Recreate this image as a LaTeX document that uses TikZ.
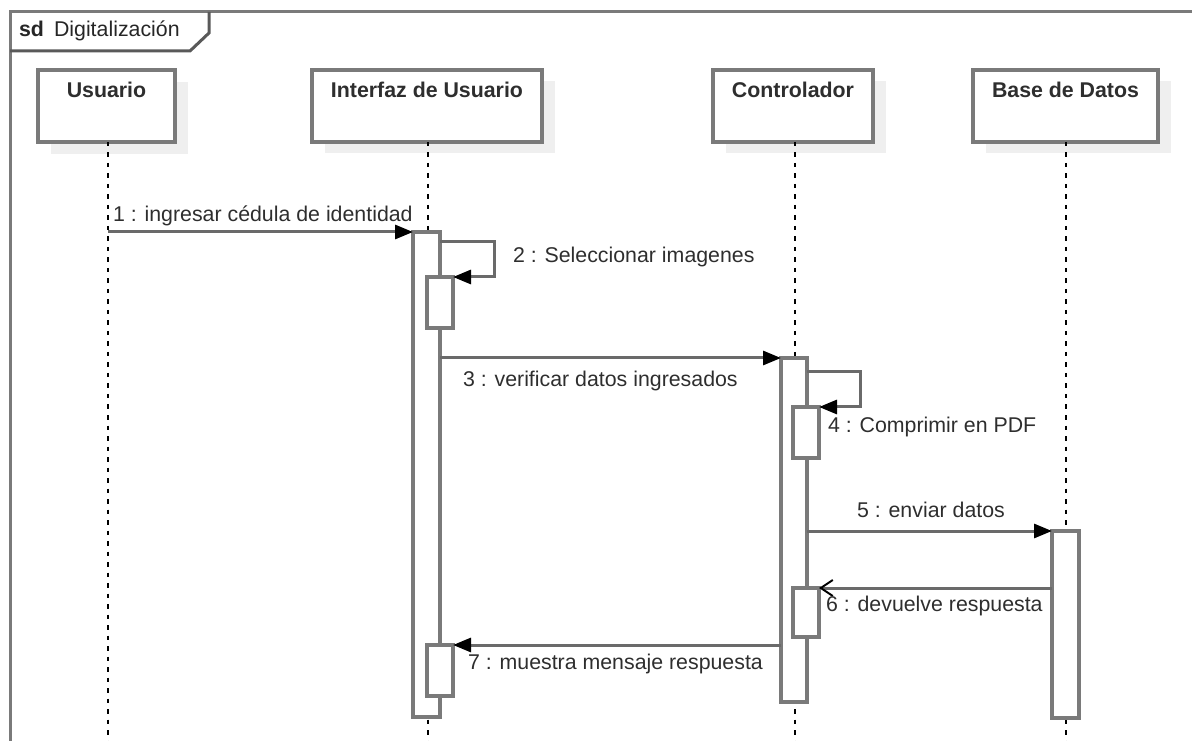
\documentclass[tikz,border=0pt]{standalone}
\usepackage{fontspec}
\setmainfont{Liberation Sans}
\usetikzlibrary{arrows.meta,calc}

\definecolor{boxline}{HTML}{7A7A7A}
\definecolor{msgline}{HTML}{6A6A6A}
\definecolor{txt}{HTML}{2E2E2E}
\definecolor{shade}{HTML}{EFEFEF}

% one drawing unit
\def\pxu{0.75pt}

\tikzset{
  every node/.style={inner sep=0pt, outer sep=0pt},
  lbl/.style={font=\fontsize{16}{19}\selectfont, text=txt, anchor=base west},
  headbox/.style={draw=boxline, line width=3.5*\pxu, fill=white, anchor=north west,
    minimum height=72*\pxu},
  headshadow/.style={fill=shade, anchor=north west, minimum height=72*\pxu},
  headtext/.style={font=\bfseries\fontsize{16}{19}\selectfont, text=txt, anchor=base},
  lifeline/.style={draw=black, line width=2.2*\pxu, dash pattern=on 4.5*\pxu off 6*\pxu},
  actbar/.style={draw=boxline, line width=3.5*\pxu, fill=white, anchor=north west},
  msg/.style={draw=msgline, line width=3*\pxu,
    -{Triangle[length=18*\pxu, width=14*\pxu, color=black]}},
  reply/.style={draw=msgline, line width=3*\pxu,
    -{Straight Barb[length=12*\pxu, width=16*\pxu, line width=2*\pxu, color=black]}},
  framebox/.style={draw=boxline, line width=3*\pxu},
}

\begin{document}
\begin{tikzpicture}[x=0.75pt, y=-0.75pt]
  \useasboundingbox (0,0) rectangle (1192,741);
  \clip (0,0) rectangle (1192,741);

  % interaction frame and its tab
  \draw[framebox] (10,12) rectangle (1220,770);
  \draw[framebox, draw=black!65] (10,51) -- (190,51) -- (209,33) -- (209,12);
  \node[font=\bfseries\fontsize{16}{19}\selectfont, text=black!85, anchor=base west] (sd) at (19,37) {sd};
  \node[lbl, text=black!85] (sdname) at (54,37) {Digitalización};

  % lifeline heads with their shadows
  \node[headshadow, minimum width=137*\pxu] at (51,82) {};
  \node[headshadow, minimum width=230*\pxu] at (325,81) {};
  \node[headshadow, minimum width=160*\pxu] at (726,81) {};
  \node[headshadow, minimum width=185*\pxu] at (986,81) {};

  \node[headbox, minimum width=137*\pxu] (usr) at (38,70) {};
  \node[headbox, minimum width=230*\pxu] (ui)  at (312,70) {};
  \node[headbox, minimum width=160*\pxu] (ctl) at (713,70) {};
  \node[headbox, minimum width=185*\pxu] (db)  at (973,70) {};

  \node[headtext] at ($(usr.north)+(0,28)$) {Usuario};
  \node[headtext] at ($(ui.north)+(0,28)$)  {Interfaz de Usuario};
  \node[headtext] at ($(ctl.north)+(0,28)$) {Controlador};
  \node[headtext] at ($(db.north)+(0,28)$)  {Base de Datos};

  % lifelines
  \coordinate (usrEnd) at (108,745);
  \coordinate (uiEnd)  at (428,745);
  \coordinate (ctlEnd) at (795,745);
  \coordinate (dbEnd)  at (1066,745);
  \draw[lifeline] (usr.south -| usrEnd) -- (usrEnd);
  \draw[lifeline] (ui.south -| uiEnd)   -- (uiEnd);
  \draw[lifeline] (ctl.south -| ctlEnd) -- (ctlEnd);
  \draw[lifeline] (db.south -| dbEnd)   -- (dbEnd);

  % activation bars
  \node[actbar, minimum width=27*\pxu, minimum height=485*\pxu] (uiA)  at (413,232) {};
  \node[actbar, minimum width=26*\pxu, minimum height=344*\pxu] (ctlA) at (781,358) {};
  \node[actbar, minimum width=27*\pxu, minimum height=187*\pxu] (dbA)  at (1052,531) {};
  \node[actbar, minimum width=26*\pxu, minimum height=51*\pxu]  (uiB)  at (427,277) {};
  \node[actbar, minimum width=26*\pxu, minimum height=51*\pxu]  (ctlB) at (793,407) {};
  \node[actbar, minimum width=26*\pxu, minimum height=49*\pxu]  (ctlC) at (793,588) {};
  \node[actbar, minimum width=26*\pxu, minimum height=51*\pxu]  (uiC)  at (427,645) {};

  % messages
  \coordinate (m1) at (108,232);
  \draw[msg] (m1) -- (uiA.north west);
  \node[lbl] (l1) at (113,222) {1 : ingresar cédula de identidad};

  \draw[msg] ($(uiA.north east)+(0,10)$) -- ++(54,0) |- (uiB.north east);
  \node[lbl] (l2) at (513,263) {2 : Seleccionar imagenes};

  \draw[msg] (uiA.east |- ctlA.north west) -- (ctlA.north west);
  \node[lbl] (l3) at (463,387) {3 : verificar datos ingresados};

  \draw[msg] ($(ctlA.north east)+(0,14)$) -- ++(53,0) |- (ctlB.north east);
  \node[lbl] (l4) at (828,432) {4 : Comprimir en PDF};

  \draw[msg] (ctlA.east |- dbA.north west) -- (dbA.north west);
  \node[lbl] (l5) at (857,517) {5 : enviar datos};

  \draw[reply] (dbA.west |- ctlC.north east) -- (ctlC.north east);
  \node[lbl] (l6) at (826,611) {6 : devuelve respuesta};

  \draw[msg] (ctlA.west |- uiC.north east) -- (uiC.north east);
  \node[lbl] (l7) at (468,669) {7 : muestra mensaje respuesta};
\end{tikzpicture}
\end{document}
